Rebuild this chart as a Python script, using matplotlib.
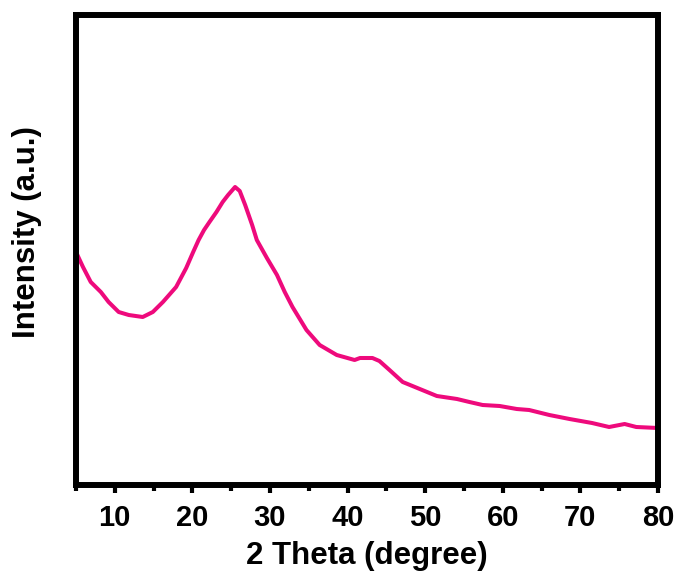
import matplotlib
matplotlib.use("Agg")
import matplotlib.pyplot as plt
from matplotlib.ticker import MultipleLocator

plt.rcParams['font.family'] = ['Liberation Sans', 'DejaVu Sans']
plt.rcParams['font.weight'] = 'bold'

two_theta = [5.0, 5.9, 6.9, 8.2, 9.2, 10.5, 11.8, 13.6, 14.9, 16.2, 17.9, 19.2,
             20.1, 20.8, 21.5, 22.2, 23.1, 23.9, 24.6, 25.5, 26.1, 26.8, 27.7,
             28.3, 29.6, 30.9, 31.9, 32.9, 34.7, 36.4, 38.6, 40.9, 41.6, 43.2,
             44.1, 45.4, 47.1, 49.3, 51.5, 54.1, 55.7, 57.4, 59.6, 61.8, 63.4,
             66.0, 68.6, 71.5, 73.7, 75.7, 77.2, 80.0]
intensity = [233, 218, 203, 193, 183, 173, 170, 168, 173, 183, 198, 217,
             233, 245, 255, 263, 273, 283, 290, 298, 294, 280, 260,
             245, 227, 210, 193, 178, 155, 140, 130, 125, 127, 127,
             124, 115, 103, 96, 89, 86, 83, 80, 79, 76, 75,
             70, 66, 62, 58, 61, 58, 57]
x_ticks = [10, 20, 30, 40, 50, 60, 70, 80]

fig = plt.figure(figsize=(6.82, 5.76), dpi=100)
ax = fig.add_axes([76/682, (576-485)/576, (658-76)/682, 470/576])
ax.plot(two_theta, intensity, color='#EE0A7C', lw=2.9,
        solid_joinstyle='round', solid_capstyle='round')
ax.set_xlim(5, 80)
ax.set_ylim(0, 470)
ax.set_xticks(x_ticks)
ax.xaxis.set_minor_locator(MultipleLocator(5))
ax.set_yticks([])
for s in ax.spines.values():
    s.set_linewidth(4.3)
ax.tick_params(axis='x', which='major', length=6, width=3, direction='out',
               labelsize=21, pad=7.5)
ax.tick_params(axis='x', which='minor', length=4, width=3, direction='out')
ax.set_xlabel('2 Theta (degree)', fontsize=22.5, fontweight='bold', labelpad=7)
ax.set_ylabel('Intensity (a.u.)', fontsize=22.5, fontweight='bold')
ax.yaxis.set_label_coords(-0.058, 0.538)
fig.savefig('out.png', dpi=100)
